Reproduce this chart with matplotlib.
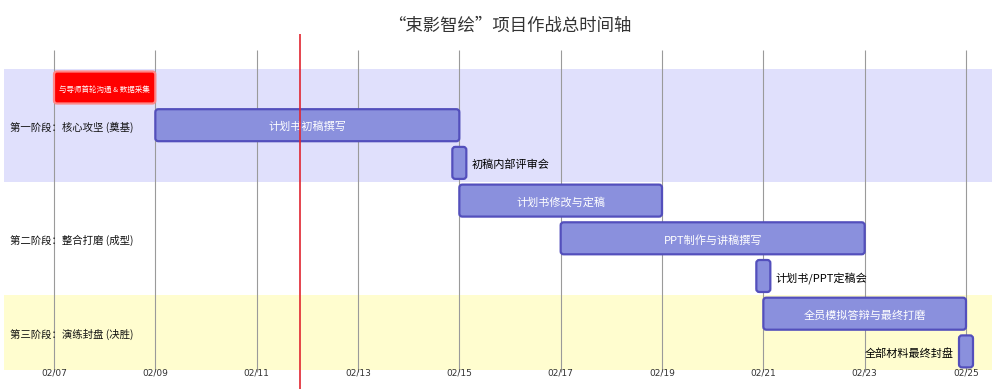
import datetime as dt

import matplotlib.dates as mdates
import matplotlib.pyplot as plt
from matplotlib.patches import FancyBboxPatch

plt.rcParams['font.family'] = ['Noto Sans CJK SC', 'DejaVu Sans']

title = '“束影智绘”项目作战总时间轴'

sections = ['第一阶段：核心攻坚 (奠基)', '第二阶段：整合打磨 (成型)', '第三阶段：演练封盘 (决胜)']
section_rows = [(0, 2), (3, 5), (6, 7)]
section_colors = ['#e0e0fc', '#ffffff', '#fffdcf']

tasks = ['与导师首轮沟通 & 数据采集', '计划书初稿撰写', '初稿内部评审会',
         '计划书修改与定稿', 'PPT制作与讲稿撰写', '计划书/PPT定稿会',
         '全员模拟答辩与最终打磨', '全部材料最终封盘']
starts = ['2026-02-07', '2026-02-09', '2026-02-15', '2026-02-15',
          '2026-02-17', '2026-02-21', '2026-02-21', '2026-02-25']
durations = [2, 6, 0, 4, 6, 0, 4, 0]  # 0 = milestone
critical = [True, False, False, False, False, False, False, False]

tick_dates = ['2026-02-07', '2026-02-09', '2026-02-11', '2026-02-13', '2026-02-15',
              '2026-02-17', '2026-02-19', '2026-02-21', '2026-02-23', '2026-02-25']
today = '2026-02-11 20:30'


def d(s):
    return mdates.date2num(dt.datetime.fromisoformat(s))


W, H = 999, 389
fig = plt.figure(figsize=(W / 100, H / 100), dpi=100)
ax = fig.add_axes([0, 0, 1, 1])
ax.axis('off')

# pixel geometry
x0, x1 = d(tick_dates[0]), d(tick_dates[-1])
px_day = (966 - 54) / (x1 - x0)
ax.set_xlim(x0 - 54 / px_day, x1 + (W - 966) / px_day)
row0, row_h = 87.5, 37.7
ax.set_ylim((H - row0) / row_h, -row0 / row_h)


def py(p):
    return (p - row0) / row_h


# section backgrounds
for (a, b), c in zip(section_rows, section_colors):
    ax.add_patch(plt.Rectangle((x0 - 50 / px_day, a - 0.5),
                               (992 - 4) / px_day, b - a + 1,
                               facecolor=c, edgecolor='none', zorder=0))
for name, (a, b) in zip(sections, section_rows):
    ax.text(x0 - 44 / px_day, (a + b) / 2 + 0.05, name, fontsize=7.5,
            va='center', ha='left', color='#111111', zorder=4)

# grid
for t in tick_dates:
    ax.vlines(d(t), py(50), py(372), color='#9a9a9a', lw=0.8, zorder=1)
    ax.text(d(t), py(373), t[5:].replace('-', '/'), fontsize=6.5, ha='center',
            va='center', color='#333333', zorder=4,
            family=['Liberation Sans Narrow', 'DejaVu Sans'])

# tasks
renderer = fig.canvas.get_renderer()
bar_h = 32 / row_h
for i, (name, s, dur, crit) in enumerate(zip(tasks, starts, durations, critical)):
    start = d(s)
    if dur == 0:
        left, width = start - 7 / px_day, 14 / px_day
    else:
        left, width = start, dur
    fc, ec = ('#ff0000', '#ff8888') if crit else ('#8a90dd', '#534fbc')
    box = FancyBboxPatch((left, i - bar_h / 2), width, bar_h,
                         boxstyle='round,pad=0,rounding_size=%f' % (3 / px_day),
                         mutation_aspect=px_day / row_h,
                         facecolor=fc, edgecolor=ec, lw=1.6, zorder=3)
    ax.add_patch(box)
    if dur == 0:
        if start + 120 / px_day > ax.get_xlim()[1]:
            ax.text(left - 5 / px_day, i + 0.05, name, fontsize=8, ha='right',
                    va='center', color='black', zorder=4)
        else:
            ax.text(left + width + 5 / px_day, i + 0.05, name, fontsize=8,
                    ha='left', va='center', color='black', zorder=4)
    else:
        txt = ax.text(left + width / 2, i + 0.05, name, fontsize=8, ha='center',
                      va='center', color='white', zorder=4)
        tw = txt.get_window_extent(renderer).width
        room = width * px_day - 10
        if tw > room:
            txt.set_fontsize(8 * room / tw)

# today marker
ax.vlines(d(today), py(34), py(H), color='#e02530', lw=1.2, zorder=5)

fig.text(510 / W, 1 - 26 / H, title, fontsize=12.5, ha='center', va='center',
         color='#333333')

fig.savefig('out.png', dpi=100)
